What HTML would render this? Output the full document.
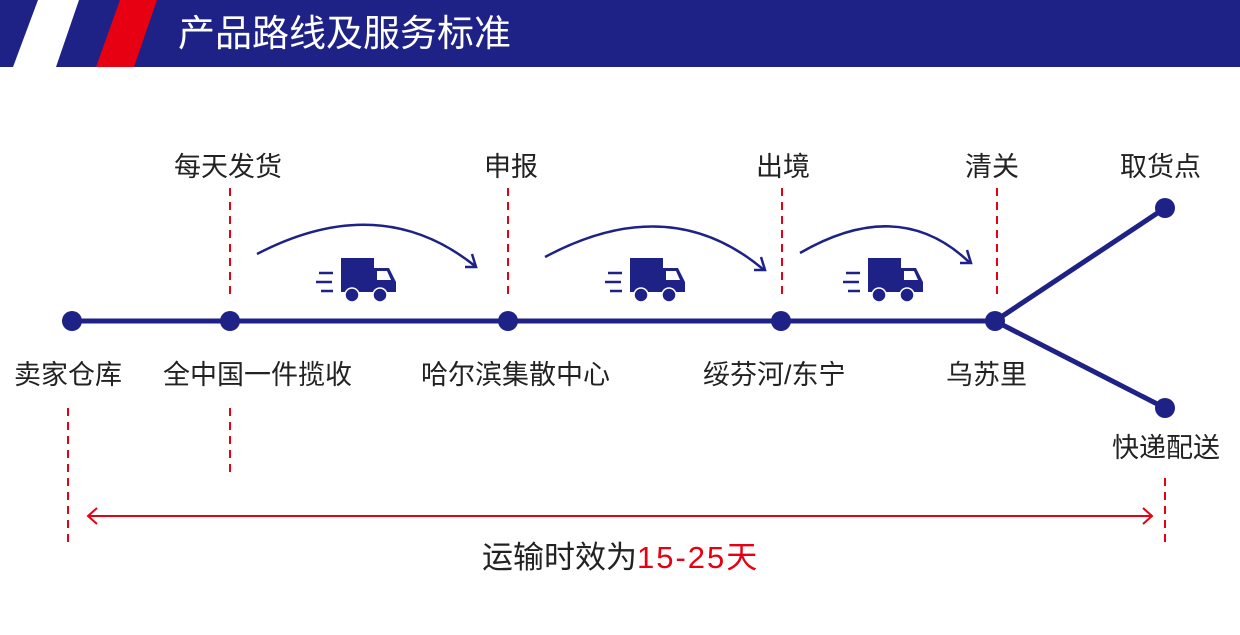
<!DOCTYPE html>
<html><head><meta charset="utf-8"><style>
body{margin:0;width:1240px;height:635px;background:#fff;overflow:hidden;font-family:"Liberation Sans","Noto Sans CJK SC",sans-serif;}
.t{position:absolute;font-size:27px;color:#222;white-space:nowrap;line-height:1;}
</style></head><body>
<svg width="1240" height="635" style="position:absolute;left:0;top:0">
<rect x="0" y="0" width="1240" height="67" fill="#1e2185"/>
<polygon points="38,0 79,0 56,67 13,67" fill="#fff"/>
<polygon points="120,0 157,0 134,67 96,67" fill="#e60012"/>
<g stroke="#e60012" stroke-width="2" stroke-dasharray="8,6">
<line x1="230" y1="188" x2="230" y2="298"/>
<line x1="508" y1="188" x2="508" y2="298"/>
<line x1="782" y1="188" x2="782" y2="298"/>
<line x1="997" y1="188" x2="997" y2="298"/>
<line x1="68" y1="408" x2="68" y2="545"/>
<line x1="230" y1="408" x2="230" y2="478"/>
<line x1="1165" y1="478" x2="1165" y2="545"/>
</g>
<g stroke="#1e2185" stroke-width="5" fill="none">
<line x1="72" y1="321" x2="995" y2="321"/>
<line x1="995" y1="321" x2="1165" y2="208"/>
<line x1="995" y1="321" x2="1165" y2="408"/>
</g>
<g fill="#1e2185">
<circle cx="72" cy="321" r="10"/><circle cx="230" cy="321" r="10"/><circle cx="508" cy="321" r="10"/>
<circle cx="781" cy="321" r="10"/><circle cx="995" cy="321" r="10"/><circle cx="1165" cy="208" r="10"/><circle cx="1165" cy="408" r="10"/>
</g>
<g stroke="#1e2185" stroke-width="2.5" fill="none">
<path d="M257,254 Q380,190 475,266"/><path d="M465,267 L476,267 L472,254"/>
<path d="M545,257 Q670,190 764,270"/><path d="M754,270 L765,270 L761,257"/>
<path d="M800,253 Q900,195 970,263"/><path d="M960,263 L971,263 L967,250"/>
</g>
<defs><g id="truck">
<rect x="0" y="0" width="33" height="34" fill="#1e2185"/>
<path d="M33,10 L48,10 L55,24 L55,34 L33,34 Z" fill="#1e2185"/>
<path d="M36,13 L46,13 L50,22 L36,22 Z" fill="#fff"/>
<circle cx="11" cy="37" r="7" fill="#1e2185" stroke="#fff" stroke-width="1.5"/>
<circle cx="39" cy="37" r="7" fill="#1e2185" stroke="#fff" stroke-width="1.5"/>
<g stroke="#1e2185" stroke-width="2.5"><line x1="-22" y1="15" x2="-8" y2="15"/><line x1="-25" y1="24" x2="-9" y2="24"/><line x1="-20" y1="33" x2="-8" y2="33"/></g>
</g></defs>
<use href="#truck" x="341" y="258"/>
<use href="#truck" x="630" y="258"/>
<use href="#truck" x="868" y="258"/>
<g stroke="#e60012" stroke-width="2" fill="none">
<line x1="88" y1="516" x2="1152" y2="516"/>
<path d="M97,508 L88,516 L97,524"/><path d="M1143,508 L1152,516 L1143,524"/>
</g>
</svg>
<div class="t" style="left:178px;top:15px;font-size:37px;color:#fff">产品路线及服务标准</div>
<div class="t" style="left:174px;top:154px">每天发货</div>
<div class="t" style="left:484px;top:154px">申报</div>
<div class="t" style="left:756px;top:154px">出境</div>
<div class="t" style="left:965px;top:154px">清关</div>
<div class="t" style="left:1120px;top:154px">取货点</div>
<div class="t" style="left:14px;top:362px">卖家仓库</div>
<div class="t" style="left:163px;top:362px">全中国一件揽收</div>
<div class="t" style="left:421px;top:362px">哈尔滨集散中心</div>
<div class="t" style="left:703px;top:362px">绥芬河/东宁</div>
<div class="t" style="left:946px;top:362px">乌苏里</div>
<div class="t" style="left:1112px;top:435px">快递配送</div>
<div class="t" style="left:482px;top:542px;font-size:31px">运输时效为<span style="color:#e60012;letter-spacing:2px">15-25天</span></div>
</body></html>
